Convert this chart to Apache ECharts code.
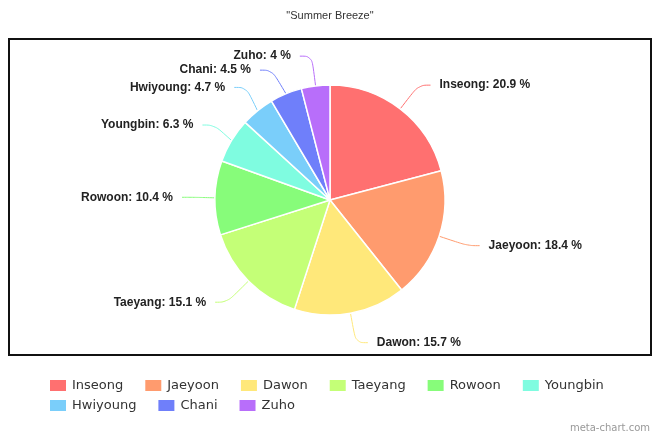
<!DOCTYPE html>
<html>
<head>
<meta charset="utf-8">
<script src="https://cdn.jsdelivr.net/npm/echarts@6/dist/echarts.min.js"></script>
<style>
html,body{margin:0;padding:0;background:#fff;}
#chart{width:660px;height:440px;}
</style>
</head>
<body>
<div id="chart"></div>
<script>
const categories = ["Inseong","Jaeyoon","Dawon","Taeyang","Rowoon","Youngbin","Hwiyoung","Chani","Zuho"];
const values = [20.9, 18.4, 15.7, 15.1, 10.4, 6.3, 4.7, 4.5, 4];
const colors = ["#FF7070","#FF9B6E","#FFE87A","#C4FF77","#87FC7A","#7FFCE0","#7ACEFA","#6F7FFA","#B86EFA"];
const titleText = '"Summer Breeze"';
const legendRow1 = categories.slice(0, 6);
const legendRow2 = categories.slice(6);

const legendCommon = {
  left: 43,
  itemWidth: 18,
  itemHeight: 13,
  itemGap: 20,
  icon: 'rect',
  textStyle: {fontFamily:'DejaVu Sans', fontSize: 13, color:'#333'}
};

const chart = echarts.init(document.getElementById('chart'), null, {renderer:'canvas'});
chart.setOption({
  animation: false,
  color: colors,
  title: {
    text: titleText,
    left: 'center',
    top: 5,
    textStyle: {fontFamily:'Liberation Sans', fontSize: 11, fontWeight:'normal', color:'#333'}
  },
  graphic: [
    {type:'rect', shape:{x:9, y:39, width:642, height:316}, style:{fill:'none', stroke:'#111', lineWidth:2}, z:-1},
    {type:'text', right: 10, top: 423, style:{text:'meta-chart.com', fontFamily:'DejaVu Sans', fontSize:10, fill:'#999'}}
  ],
  legend: [
    Object.assign({top: 373, data: legendRow1}, legendCommon),
    Object.assign({top: 393, data: legendRow2}, legendCommon)
  ],
  series: [{
    type: 'pie',
    center: [330, 200],
    radius: 115,
    startAngle: 90,
    clockwise: true,
    data: categories.map((c,i)=>({name:c, value:values[i]})),
    itemStyle: {borderColor:'#fff', borderWidth:1.5},
    label: {
      formatter: p => p.name + ': ' + p.value + ' %',
      fontFamily: 'Liberation Sans',
      fontWeight: 'bold',
      fontSize: 12,
      color: '#222',
      distanceToLabelLine: 9
    },
    labelLine: {show:true, length: 30, length2: 12, smooth: 0.4, lineStyle:{width:1}},
    emphasis: {disabled:true}
  }]
});
</script>
</body>
</html>
